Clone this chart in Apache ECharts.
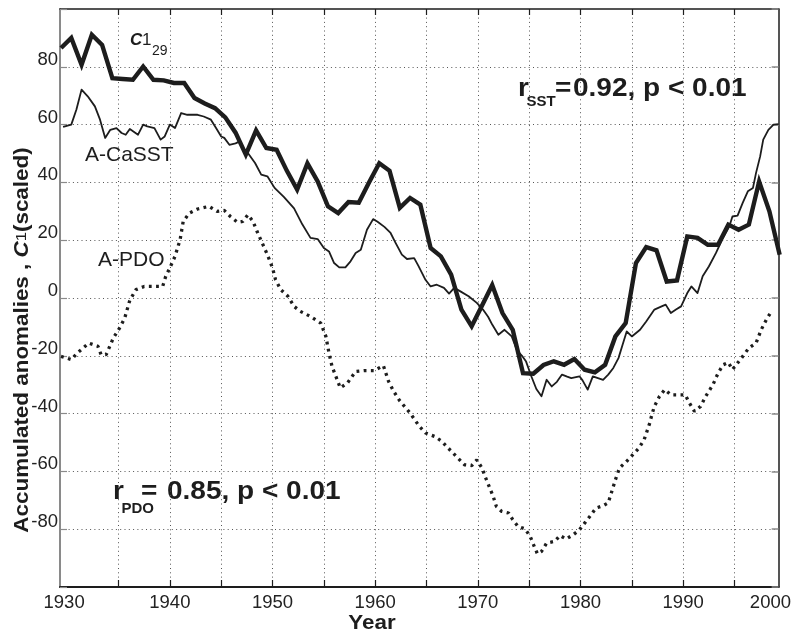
<!DOCTYPE html>
<html>
<head>
<meta charset="utf-8">
<script src="https://cdn.jsdelivr.net/npm/echarts@6/dist/echarts.min.js"></script>
<style>
  html, body { margin: 0; background: #fff; }
  #chart { width: 794px; height: 632px; }
</style>
</head>
<body>
<div id="chart"></div>
<script>
// C1_29 index, one value per year (first point sits at 1929.4 on the axis)
var c1Start = 1929.4;
var c1Values = [86.5, 90.0, 80.7, 91.1, 87.6, 76.1, 75.8, 75.5, 80.1, 75.5,
                75.3, 74.4, 74.4, 69.2, 67.3, 65.7, 62.5, 57.2, 49.6, 58.0,
                51.9, 51.3, 44.0, 37.5, 46.6, 40.3, 31.7, 29.4, 33.2, 33.0,
                40.0, 46.6, 44.0, 31.2, 34.6, 32.3, 17.3, 14.4, 8.1, -4.0,
                -9.8, -2.7, 4.5, -5.2, -11.0, -26.0, -26.2, -23.2, -21.9, -23.1,
                -21.1, -24.8, -25.7, -23.1, -13.3, -8.7, 12.1, 17.6, 16.5, 5.7,
                6.1, 21.3, 20.8, 18.4, 18.4, 25.4, 23.6, 25.4, 40.3, 30.0, 15.0];

// A-CaSST (thin line)
var sstYears = [1929.6, 1930.4, 1930.9, 1931.4, 1932.0, 1932.7, 1933.2, 1933.7, 1934.2, 1934.8,
                1935.3, 1935.7, 1936.1, 1936.9, 1937.4, 1937.8, 1938.5, 1939.1, 1939.5, 1940.0,
                1940.5, 1941.1, 1941.7, 1942.7, 1943.3, 1944.0, 1944.5, 1945.0, 1945.3, 1945.8,
                1946.4, 1946.8, 1947.1, 1947.6, 1948.3, 1948.9, 1949.5, 1950.2, 1951.1, 1952.1,
                1952.9, 1953.7, 1954.4, 1955.0, 1955.5, 1956.0, 1956.5, 1957.1, 1957.6, 1958.1,
                1958.6, 1959.2, 1959.8, 1960.2, 1960.9, 1961.5, 1962.0, 1962.6, 1963.1, 1963.8,
                1964.2, 1964.9, 1965.4, 1966.0, 1966.7, 1967.2, 1967.7, 1968.3, 1969.1, 1969.9,
                1970.5, 1971.0, 1971.4, 1972.0, 1972.6, 1973.3, 1973.8, 1974.3, 1974.7, 1975.2,
                1975.7, 1976.2, 1976.7, 1977.2, 1977.7, 1978.2, 1978.7, 1979.1, 1979.9, 1980.2,
                1980.7, 1981.2, 1981.7, 1982.2, 1982.7, 1983.2, 1983.7, 1984.1, 1984.5, 1985.0,
                1985.8, 1986.4, 1987.2, 1987.9, 1988.3, 1988.8, 1989.3, 1989.8, 1990.4, 1990.8,
                1991.4, 1991.9, 1992.5, 1993.2, 1993.8, 1994.5, 1994.8, 1995.3, 1995.8, 1996.3,
                1996.8, 1997.1, 1997.5, 1997.8, 1998.3, 1998.8, 1999.3];
var sstValues = [59.2, 60.0, 65.2, 72.1, 69.8, 66.3, 61.7, 55.4, 58.2, 58.8,
                 57.1, 56.5, 58.5, 56.5, 60.0, 59.4, 58.8, 54.8, 55.9, 60.0,
                 58.8, 64.0, 63.4, 63.4, 62.8, 61.7, 58.8, 55.9, 55.4, 53.0,
                 53.5, 54.2, 51.9, 50.2, 46.7, 42.7, 42.1, 38.1, 35.0, 31.0,
                 25.5, 20.8, 20.4, 17.3, 16.1, 12.1, 10.6, 10.6, 12.7, 15.6,
                 16.7, 23.6, 27.3, 26.5, 24.6, 22.5, 19.0, 15.0, 13.5, 13.8,
                 11.2, 6.3, 4.0, 4.6, 3.5, 1.5, 3.5, 2.3, 0.6, -1.7,
                 -4.0, -6.5, -9.2, -12.7, -11.0, -13.3, -18.0, -20.0, -22.0, -27.0,
                 -31.5, -34.0, -28.3, -30.6, -29.0, -26.5, -27.2, -27.7, -27.1, -28.5,
                 -31.7, -27.1, -27.7, -28.3, -26.5, -24.2, -20.8, -16.2, -11.6, -13.3,
                 -11.0, -8.1, -4.0, -2.9, -2.3, -5.2, -4.0, -2.9, 1.7, 4.0,
                 1.7, 7.5, 10.9, 15.6, 20.2, 24.8, 28.2, 28.5, 32.9, 36.9,
                 38.1, 43.3, 49.0, 54.8, 58.2, 60.0, 60.2];

// A-PDO (dotted line)
var pdoYears = [1929.4, 1930.4, 1931.0, 1932.1, 1933.0, 1933.3, 1933.8, 1934.5, 1935.1, 1935.6,
                1936.1, 1936.7, 1937.5, 1938.5, 1939.3, 1939.6, 1940.0, 1940.5, 1941.0, 1941.3,
                1941.9, 1942.7, 1943.8, 1944.6, 1945.3, 1945.9, 1946.6, 1947.1, 1947.6, 1948.1,
                1948.5, 1949.0, 1949.5, 1950.0, 1950.3, 1950.8, 1951.5, 1952.1, 1952.7, 1953.7,
                1954.7, 1955.2, 1955.5, 1955.8, 1956.3, 1956.6, 1957.3, 1958.1, 1958.9, 1959.9,
                1960.8, 1961.3, 1961.8, 1962.4, 1963.4, 1964.3, 1964.9, 1965.8, 1966.5, 1967.1,
                1967.9, 1968.7, 1969.4, 1969.9, 1970.4, 1970.7, 1971.1, 1971.5, 1971.8, 1972.3,
                1973.0, 1973.4, 1973.9, 1974.6, 1975.1, 1975.5, 1975.8, 1976.2, 1976.7, 1977.5,
                1978.0, 1978.6, 1979.3, 1979.9, 1980.4, 1980.9, 1981.5, 1982.2, 1982.7, 1983.0,
                1983.4, 1983.8, 1984.5, 1985.1, 1985.7, 1986.2, 1986.7, 1987.0, 1987.2, 1987.7,
                1988.2, 1988.8, 1989.5, 1990.2, 1990.6, 1991.1, 1991.7, 1992.2, 1992.9, 1993.4,
                1993.9, 1994.4, 1994.8, 1995.3, 1995.8, 1996.4, 1997.1, 1997.6, 1998.1, 1998.5];
var pdoValues = [-20.2, -21.3, -19.0, -15.6, -16.7, -19.6, -19.6, -13.8, -10.4, -7.0,
                 -0.8, 2.9, 4.0, 4.0, 4.0, 7.5, 10.4, 14.4, 20.2, 26.5,
                 29.4, 30.8, 31.7, 30.0, 30.3, 28.2, 26.2, 26.5, 28.8, 26.5,
                 23.0, 19.0, 15.0, 10.4, 6.3, 2.9, 0.6, -2.9, -4.6, -6.4,
                 -8.7, -13.3, -19.0, -23.7, -28.3, -31.1, -29.4, -25.4, -25.1, -25.1,
                 -23.4, -28.8, -32.3, -35.6, -39.8, -44.4, -46.7, -47.9, -49.6, -51.9,
                 -54.8, -57.7, -58.0, -56.0, -58.8, -61.7, -65.2, -68.7, -72.1, -73.8,
                 -74.4, -76.7, -79.0, -79.9, -82.5, -86.0, -88.5, -87.7, -84.8, -84.2,
                 -82.2, -83.4, -81.9, -80.2, -77.9, -75.6, -72.7, -71.9, -70.9, -67.5,
                 -62.9, -58.8, -56.5, -54.2, -51.9, -49.0, -43.8, -39.8, -37.5, -34.0,
                 -31.7, -33.5, -33.5, -33.5, -36.3, -39.2, -37.5, -34.0, -30.0, -26.0,
                 -23.1, -22.3, -24.8, -22.5, -20.2, -17.3, -15.6, -11.0, -7.5, -5.2];

var xTicks = [1935, 1940, 1945, 1950, 1955, 1960, 1965, 1970, 1975, 1980, 1985, 1990, 1995];
var xTickLabels = [1930, 1940, 1950, 1960, 1970, 1980, 1990, 2000];

var xMin = 1929.3, xMax = 1999.3;
var ink = '#1d1d1d';
var font = 'Liberation Sans, Arial, Helvetica, sans-serif';

function pairs(xs, ys) {
    return ys.map(function (v, i) { return [xs[i], v]; });
}

var c1Data = c1Values.map(function (v, i) { return [c1Start + i, v]; });

// the end labels sit inside the frame, as in the source figure
var labelPos = xTickLabels.map(function (v) {
    if (v === 1930) return xMin + 0.4;
    if (v === 2000) return xMax - 0.8;
    return v;
});

var chart = echarts.init(document.getElementById('chart'));

var option = {
    animation: false,
    backgroundColor: '#fff',
    textStyle: { fontFamily: font },
    grid: { left: 60, right: 12, top: 9, bottom: 45 },
    xAxis: [{
        type: 'value',
        min: xMin,
        max: xMax,
        position: 'bottom',
        axisLine: { show: true, onZero: false, lineStyle: { color: ink, width: 2 } },
        axisTick: { show: true, inside: true, length: 7, customValues: xTicks,
                    lineStyle: { color: ink, width: 1.2 } },
        axisLabel: {
            customValues: labelPos,
            fontSize: 18.5,
            color: '#222',
            margin: 6,
            formatter: function (v) { return String(Math.round(v / 10) * 10); }
        },
        splitLine: { show: true, lineStyle: { color: '#555', width: 1, type: [1, 3.3] } }
    }, {
        type: 'value',
        min: xMin,
        max: xMax,
        position: 'top',
        axisLine: { show: true, onZero: false, lineStyle: { color: ink, width: 1.5 } },
        axisTick: { show: true, inside: true, length: 6, customValues: xTicks,
                    lineStyle: { color: ink, width: 1.2 } },
        axisLabel: { show: false },
        splitLine: { show: false }
    }],
    yAxis: [{
        type: 'value',
        min: -100,
        max: 100,
        interval: 20,
        position: 'left',
        axisLine: { show: true, onZero: false, lineStyle: { color: '#8a8a8a', width: 2 } },
        axisTick: { show: true, inside: true, length: 7, lineStyle: { color: '#8a8a8a', width: 1.2 } },
        axisLabel: {
            fontSize: 18.5,
            color: '#222',
            margin: 2,
            verticalAlign: 'bottom',
            lineHeight: 14,
            formatter: function (v) { return Math.abs(v) === 100 ? '' : String(v); }
        },
        splitLine: { show: true, showMinLine: false, showMaxLine: false,
                     lineStyle: { color: '#555', width: 1, type: [1, 3.3] } }
    }, {
        type: 'value',
        min: -100,
        max: 100,
        interval: 20,
        position: 'right',
        axisLine: { show: true, onZero: false, lineStyle: { color: ink, width: 1.5 } },
        axisTick: { show: true, inside: true, length: 7, lineStyle: { color: '#8a8a8a', width: 1.5 } },
        axisLabel: { show: false },
        splitLine: { show: false }
    }],
    series: [{
        name: 'A-PDO',
        type: 'line',
        data: pairs(pdoYears, pdoValues),
        showSymbol: false,
        lineStyle: { color: ink, width: 3.3, type: [2.8, 4.4], cap: 'butt' },
        z: 2
    }, {
        name: 'A-CaSST',
        type: 'line',
        data: pairs(sstYears, sstValues),
        showSymbol: false,
        lineStyle: { color: ink, width: 1.8, join: 'round' },
        z: 3
    }, {
        name: 'C1_29',
        type: 'line',
        data: c1Data,
        showSymbol: false,
        lineStyle: { color: ink, width: 4.4, join: 'miter' },
        z: 4
    }],
    graphic: [
        // y axis title
        { type: 'text', x: 22, y: 340, rotation: Math.PI / 2, scaleX: 1.12,
          style: { text: '{b|Accumulated anomalies , }{c|C}{o|1}{b|(scaled)}',
                   align: 'center', verticalAlign: 'middle', fill: ink,
                   rich: {
                       b: { fontSize: 20, fontWeight: 'bold', fontFamily: font, fill: ink },
                       c: { fontSize: 20, fontWeight: 'bold', fontStyle: 'italic', fontFamily: font, fill: ink },
                       o: { fontSize: 15, fontFamily: font, fill: ink }
                   } } },
        // x axis title
        { type: 'text', x: 372, y: 623, scaleX: 1.12,
          style: { text: 'Year', fontSize: 20, fontWeight: 'bold', fontFamily: font, fill: ink,
                   align: 'center', verticalAlign: 'middle' } },
        // series labels
        { type: 'text', x: 130, y: 40.4,
          style: { text: 'C', fontSize: 17, fontWeight: 'bold', fontStyle: 'italic', fontFamily: font,
                   fill: ink, align: 'left', verticalAlign: 'middle' } },
        { type: 'text', x: 142, y: 40.4,
          style: { text: '1', fontSize: 17, fontFamily: font, fill: ink, align: 'left', verticalAlign: 'middle' } },
        { type: 'text', x: 152, y: 50.7,
          style: { text: '29', fontSize: 14, fontFamily: font, fill: ink, align: 'left', verticalAlign: 'middle' } },
        { type: 'text', x: 85, y: 155.2,
          style: { text: 'A-CaSST', fontSize: 21, fontFamily: font, fill: ink, align: 'left', verticalAlign: 'middle' } },
        { type: 'text', x: 98, y: 260.5,
          style: { text: 'A-PDO', fontSize: 21, fontFamily: font, fill: ink, align: 'left', verticalAlign: 'middle' } },
        // correlation notes
        { type: 'text', x: 518, y: 89, scaleX: 1.12,
          style: { text: 'r', fontSize: 25, fontWeight: 'bold', fontFamily: font, fill: ink, align: 'left', verticalAlign: 'middle' } },
        { type: 'text', x: 526.5, y: 101.4,
          style: { text: 'SST', fontSize: 15, fontWeight: 'bold', fontFamily: font, fill: ink, align: 'left', verticalAlign: 'middle' } },
        { type: 'text', x: 555, y: 89, scaleX: 1.12,
          style: { text: '=', fontSize: 25, fontWeight: 'bold', fontFamily: font, fill: ink, align: 'left', verticalAlign: 'middle' } },
        { type: 'text', x: 573, y: 89, scaleX: 1.12,
          style: { text: '0.92, p < 0.01', fontSize: 25, fontWeight: 'bold', fontFamily: font, fill: ink, align: 'left', verticalAlign: 'middle' } },
        { type: 'text', x: 113, y: 492.2, scaleX: 1.12,
          style: { text: 'r', fontSize: 25, fontWeight: 'bold', fontFamily: font, fill: ink, align: 'left', verticalAlign: 'middle' } },
        { type: 'text', x: 121.5, y: 508.7,
          style: { text: 'PDO', fontSize: 15, fontWeight: 'bold', fontFamily: font, fill: ink, align: 'left', verticalAlign: 'middle' } },
        { type: 'text', x: 141, y: 492.2, scaleX: 1.12,
          style: { text: '=', fontSize: 25, fontWeight: 'bold', fontFamily: font, fill: ink, align: 'left', verticalAlign: 'middle' } },
        { type: 'text', x: 167, y: 492.2, scaleX: 1.12,
          style: { text: '0.85, p < 0.01', fontSize: 25, fontWeight: 'bold', fontFamily: font, fill: ink, align: 'left', verticalAlign: 'middle' } }
    ]
};

chart.setOption(option);
</script>
</body>
</html>
